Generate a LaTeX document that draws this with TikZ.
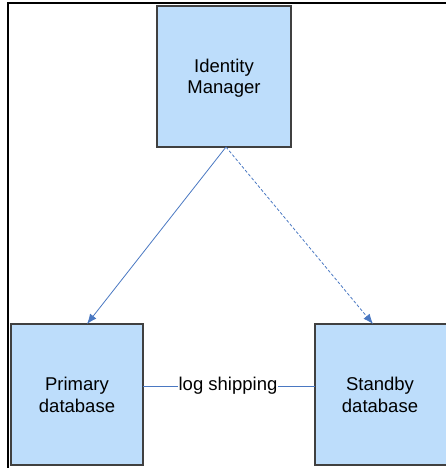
\documentclass[tikz,border=0pt]{standalone}
\usepackage{fontspec}
\setmainfont{Liberation Sans}
\usetikzlibrary{arrows.meta}
\definecolor{boxfill}{HTML}{BDDDFB}
\definecolor{boxline}{HTML}{404040}
\definecolor{arrowblue}{HTML}{4A78C2}
\begin{document}
\begin{tikzpicture}[x=1pt,y=-1pt,
  box/.style={draw=boxline,line width=1.2pt,fill=boxfill,minimum width=134pt,minimum height=141pt,inner sep=0pt,outer sep=0pt},
  lbl/.style={align=center,font=\fontsize{18.5}{21.5}\selectfont,inner sep=0pt},
  conn/.style={draw=arrowblue,line width=0.8pt},
  tip/.style={-{Latex[length=10pt,width=8pt]}}]
\useasboundingbox (0,0) rectangle (445,468);
% frame
\draw[line width=1.5pt] (8,470) -- (8,3) -- (447,3);
% boxes
\node[box] (im) at (224,76.5) {};
\node[lbl] (iml) at (224,78) {Identity\\Manager};
\node[box,minimum width=132pt] (pd) at (77,394.5) {};
\node[lbl] (pdl) at (77,395) {Primary\\database};
\node[box,minimum width=136pt] (sb) at (383,394.5) {};
\node[lbl] (sbl) at (380,395) {Standby\\database};
% log shipping
\node[lbl,fill=white,inner xsep=0.5pt] (ls) at (228,386) {log shipping};
\draw[conn] (pd.east |- ls) -- (ls.west);
\draw[conn] (ls.east) -- (sb.west |- ls);
% arrows
\draw[conn,tip] ([xshift=2pt]im.south) -- ([xshift=10pt]pd.north);
\draw[conn,tip,dash pattern=on 3pt off 2pt] ([xshift=2pt]im.south) -- ([xshift=-10pt]sb.north);
\end{tikzpicture}
\end{document}
